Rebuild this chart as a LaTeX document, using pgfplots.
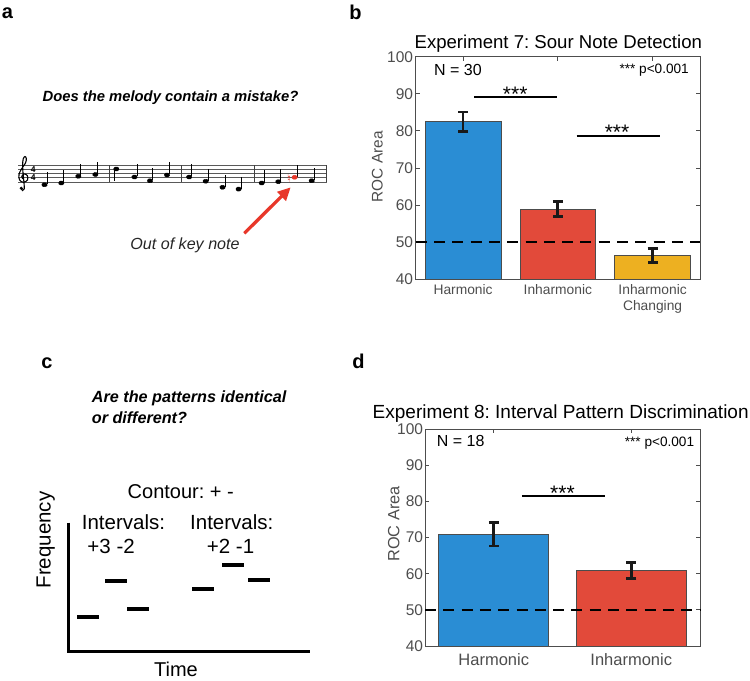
\documentclass[border=0pt]{standalone}
\usepackage{pgfplots}
\pgfplotsset{compat=1.18}
\usepackage{fontspec}
\setmainfont{Liberation Sans}
\newfontfamily\symfont{DejaVu Sans}
\usetikzlibrary{arrows.meta}
\frenchspacing

\definecolor{harm}{HTML}{2A8DD4}
\definecolor{inharm}{HTML}{E24A3A}
\definecolor{chang}{HTML}{EDB021}
\definecolor{arrowred}{HTML}{E8372A}
\definecolor{axgray}{HTML}{4D4D4D}

\newcommand{\fs}[1]{\fontsize{#1bp}{#1bp}\selectfont}

\tikzset{lab/.style={inner sep=0pt}}
\pgfplotsset{
  rocaxis/.style={
    scale only axis, anchor=south west, clip=false,
    ymin=40, ymax=100, ytick={40,50,...,100},
    tick align=inside, tick pos=both, major tick length=4bp,
    axis line style={draw=axgray, line width=0.8bp},
    major tick style={draw=axgray, line width=0.8bp},
    tick label style={text=axgray},
    /pgf/number format/assume math mode=true,
    bar width=0.8,
  },
  rocbar/.style={ybar, bar shift=0pt, fill=#1, draw=black!70, line width=0.6bp,
    error bars/y dir=both, error bars/y explicit,
    error bars/error bar style={line width=2.8bp, draw=black!90},
    error bars/error mark options={rotate=90, mark size=5bp, line width=2.8bp, draw=black!90}},
  chance/.style={sharp plot, black, line width=2.5bp, dash pattern=on 11bp off 7.3bp},
  sig/.style={sharp plot, black, line width=2.4bp},
}

\begin{document}
\begin{tikzpicture}
\path[use as bounding box] (0,0) rectangle (750bp,681bp);

% panels a and c, drawn in picture pixel coordinates
\begin{axis}[at={(0bp,0bp)}, anchor=south west, scale only axis,
  width=750bp, height=681bp, xmin=0, xmax=750, ymin=0, ymax=681,
  y dir=reverse, hide axis, clip=false, unbounded coords=jump]

% panel letters
\node[lab, font=\fs{20}\bfseries] at (7.5,13.5) {a};
\node[lab, font=\fs{20}\bfseries] at (355.5,12.5) {b};
\node[lab, font=\fs{20}\bfseries] at (47,363) {c};
\node[lab, font=\fs{20}\bfseries] at (358.5,361.5) {d};

% --- a: melody
\node[lab, font=\fs{14.8}\bfseries\itshape, anchor=base] at (170.5,101.7) {Does the melody contain a mistake?};
\addplot[gray!70!black, line width=0.6bp] coordinates {
  (18.3,165.2) (326.5,165.2) (nan,nan)
  (18.3,169.35) (326.5,169.35) (nan,nan)
  (18.3,173.5) (326.5,173.5) (nan,nan)
  (18.3,177.65) (326.5,177.65) (nan,nan)
  (18.3,181.8) (326.5,181.8)};
\addplot[gray!50!black, line width=0.8bp] coordinates {
  (109.3,165.2) (109.3,181.8) (nan,nan)
  (181,165.2) (181,181.8) (nan,nan)
  (254.3,165.2) (254.3,181.8) (nan,nan)
  (326.3,165.2) (326.3,181.8)};
% treble clef
\addplot[black, line width=1.1bp, smooth, tension=0.6] coordinates {
  (21.2,188.2) (22.5,190.5) (24.2,189) (24,183) (23.2,175) (22.6,166)
  (23.2,159) (25,156.5) (26.3,158.5) (25.5,163) (21.5,169) (19,174.5)
  (19.6,180) (23.5,182.3) (27.5,180) (27.3,175.5) (24,174) (21.8,176.5) (23,179)};
\addplot[only marks, mark=*, mark size=1.4bp, black] coordinates {(21.3,188.3)};
\node[lab, font=\fs{8.5}\bfseries] at (33.3,169.3) {4};
\node[lab, font=\fs{8.5}\bfseries] at (33.3,177.6) {4};
% note heads
\addplot[only marks, mark=*, mark size=2.1bp, mark options={black, xscale=1.3, rotate=25}] coordinates {
  (44.5,184.8) (61.3,183) (78.3,176.3) (95.4,174.5)
  (116.3,169) (134.5,177) (150,180.8) (167,175)
  (189.2,177) (205.7,181.2) (222.5,187.3) (238.6,189.1)
  (261.7,183) (278.3,181.7) (311.7,180.8)};
\addplot[only marks, mark=*, mark size=2.1bp, mark options={arrowred, xscale=1.3, rotate=25}] coordinates {(294.6,177.3)};
% stems
\addplot[black, line width=0.8bp] coordinates {
  (46.9,184.3) (46.9,172.3) (nan,nan)
  (63.7,182.5) (63.7,170.5) (nan,nan)
  (80.7,175.8) (80.7,163.8) (nan,nan)
  (97.8,174) (97.8,162) (nan,nan)
  (113.9,169.5) (113.9,181.5) (nan,nan)
  (136.9,176.5) (136.9,164.5) (nan,nan)
  (152.4,180.3) (152.4,168.3) (nan,nan)
  (169.4,174.5) (169.4,162.5) (nan,nan)
  (191.6,176.5) (191.6,164.5) (nan,nan)
  (208.1,180.7) (208.1,168.7) (nan,nan)
  (224.9,186.8) (224.9,174.8) (nan,nan)
  (241,188.6) (241,176.6) (nan,nan)
  (264.1,182.5) (264.1,170.5) (nan,nan)
  (280.7,181.2) (280.7,169.2) (nan,nan)
  (297,176.8) (297,164.8) (nan,nan)
  (314.1,180.3) (314.1,168.3)};
\node[lab, font=\symfont\fs{11}, text=arrowred] at (289.2,178) {♮};
\addplot[arrowred, line width=3.3bp, -{Triangle[length=13bp, width=12bp]}] coordinates {(244.3,233.3) (290.7,187.3)};
\node[lab, font=\fs{16.1}\itshape, anchor=base, text=black!85] at (185,249.3) {Out of key note};

% --- b: texts
\node[lab, font=\fs{18.6}, anchor=base] at (558.3,48.3) {Experiment 7: Sour Note Detection};
\node[lab, font=\fs{15.4}, rotate=90, anchor=base, text=axgray] at (382.7,166.7) {ROC Area};
\node[lab, font=\fs{16}, anchor=base west] at (434,76) {N = 30};
\node[lab, font=\fs{13.6}, anchor=base east] at (689,74) {*** p<0.001};

% --- c: interval patterns
\node[lab, font=\fs{16.2}\bfseries\itshape, anchor=base west] at (91.7,402.7) {Are the patterns identical};
\node[lab, font=\fs{16.2}\bfseries\itshape, anchor=base west] at (91.7,423.3) {or different?};
\node[lab, font=\fs{20}, anchor=base] at (180.8,498.3) {Contour: + -};
\node[lab, font=\fs{20.5}, anchor=base west] at (81.7,529.3) {Intervals:};
\node[lab, font=\fs{20.5}, anchor=base west] at (190,529.3) {Intervals:};
\node[lab, font=\fs{20.5}, anchor=base west] at (87.3,553.3) {+3 -2};
\node[lab, font=\fs{20.5}, anchor=base west] at (206.7,553.3) {+2 -1};
\node[lab, font=\fs{20.5}, rotate=90, anchor=base] at (50.7,540) {Frequency};
\node[lab, font=\fs{20}, anchor=base] at (176,676.5) {Time};
\addplot[black, line width=3.3bp] coordinates {(68.3,522.7) (68.3,651.7) (310,651.7)};
\addplot[black, line width=3.5bp] coordinates {
  (77,617) (99,617) (nan,nan)
  (105,581) (127,581) (nan,nan)
  (127,609) (149,609) (nan,nan)
  (192,589) (214,589) (nan,nan)
  (222,565) (244,565) (nan,nan)
  (248,580) (270,580)};

% --- d: texts
\node[lab, font=\fs{19}, anchor=base] at (560.7,418.3) {Experiment 8: Interval Pattern Discrimination};
\node[lab, font=\fs{16.3}, rotate=90, anchor=base, text=axgray] at (399.3,524) {ROC Area};
\node[lab, font=\fs{16}, anchor=base west] at (436.7,446.7) {N = 18};
\node[lab, font=\fs{13.6}, anchor=base east] at (694.3,446.7) {*** p<0.001};
\end{axis}

% --- b: Experiment 7
\begin{axis}[rocaxis, at={(415.7bp,401.7bp)}, width=284.3bp, height=222.6bp,
  xmin=0.5, xmax=3.5, xtick={1,2,3},
  xticklabels={Harmonic, Inharmonic, {Inharmonic\\Changing}},
  xticklabel style={font={\fontsize{13.8bp}{16.7bp}\selectfont}, align=center, yshift=-1.2bp},
  yticklabel style={font=\fs{15.5}, inner sep=0pt, xshift=-2.4bp}]
\addplot[rocbar=harm] coordinates {(1,82.5) +- (0,2.6)};
\addplot[rocbar=inharm] coordinates {(2,59.0) +- (0,2.0)};
\addplot[rocbar=chang] coordinates {(3,46.4) +- (0,1.9)};
\addplot[chance] coordinates {(0.5,50) (3.5,50)};
\addplot[sig] coordinates {(1.118,89.06) (1.987,89.06)};
\addplot[sig] coordinates {(2.198,78.7) (3.077,78.7)};
\node[lab, font=\fs{21}, anchor=base, yshift=-4bp] at (axis cs:1.55,89.06) {***};
\node[lab, font=\fs{21}, anchor=base, yshift=-4bp] at (axis cs:2.625,78.7) {***};
\end{axis}

% --- d: Experiment 8
\begin{axis}[rocaxis, at={(425bp,35bp)}, width=275bp, height=216.7bp,
  xmin=0.5, xmax=2.5, xtick={1,2},
  xticklabels={Harmonic, Inharmonic},
  xticklabel style={font=\fs{16.5}, yshift=-4.5bp},
  yticklabel style={font=\fs{15.5}, inner sep=0pt, xshift=-1.7bp}]
\addplot[rocbar=harm] coordinates {(1,70.9) +- (0,3.2)};
\addplot[rocbar=inharm] coordinates {(2,60.9) +- (0,2.3)};
\addplot[chance] coordinates {(0.5,50) (2.5,50)};
\addplot[sig] coordinates {(1.205,81.5) (1.809,81.5)};
\node[lab, font=\fs{21}, anchor=base, yshift=-4bp] at (axis cs:1.5,81.5) {***};
\end{axis}
\end{tikzpicture}
\end{document}
